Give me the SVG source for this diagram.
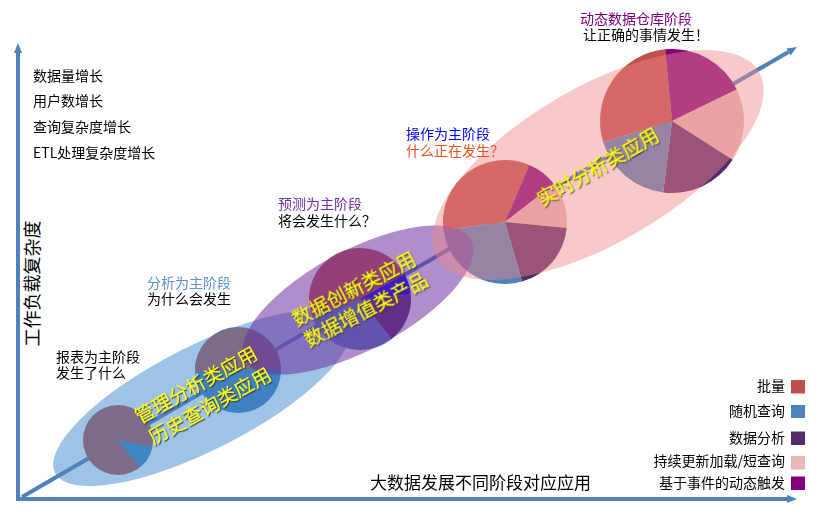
<svg xmlns="http://www.w3.org/2000/svg" width="820" height="520" viewBox="0 0 820 520">
<defs>
<style>
text{font-family:"Noto Sans CJK SC","Noto Sans",sans-serif;}
.t{font-size:14px;fill:#000;}
.s{font-family:"Liberation Sans","Noto Sans CJK SC",sans-serif;}
.axis{stroke:#4f81bd;stroke-width:4;fill:none;}
.band{font-size:19.5px;fill:#ffff00;text-anchor:middle;}
.lg{font-size:14px;fill:#000;text-anchor:end;}
.c-batch{fill:#c0504d;}
.c-rand{fill:#4f81bd;}
.c-ana{fill:#572b6c;}
.c-cont{fill:#e6b9b8;}
.c-evt{fill:#800080;}
</style>
<marker id="arr" viewBox="0 0 10 8" refX="0" refY="4" markerWidth="10" markerHeight="8" markerUnits="userSpaceOnUse" orient="auto">
<path d="M0,0 L10,4 L0,8 Z" fill="#4f81bd"/>
</marker>
<filter id="sh" x="-10%" y="-20%" width="120%" height="140%">
<feDropShadow dx="1.2" dy="1.2" stdDeviation="0.7" flood-color="#333" flood-opacity="0.85"/>
</filter>
</defs>
<rect width="820" height="520" fill="#fff"/>

<g id="axes">
<line class="axis" x1="18" y1="501" x2="18" y2="53" marker-end="url(#arr)"/>
<line class="axis" x1="16" y1="499" x2="787" y2="499" marker-end="url(#arr)"/>
</g>

<g id="band-history">
<ellipse cx="202" cy="398" rx="165" ry="52" transform="rotate(-27 202 398)" fill="#5b9bd5" fill-opacity="0.6"/>
</g>

<g id="connectors">
<line class="axis" x1="22" y1="497" x2="788.4" y2="52" marker-end="url(#arr)"/>
</g>

<g id="pie-report">
<circle cx="118" cy="440" r="35" fill="#7c6b89"/>
<path d="M118,440 L152.23,447.28 A35,35 0 0 1 140.03,467.2 Z" fill="#3f86c6"/>
</g>

<g id="pie-analysis">
<circle cx="238" cy="370" r="43" fill="#3e80c2"/>
<path d="M238,370 L195.03,371.5 A43,43 0 0 1 280.97,368.5 Z" fill="#7d6b88"/>
</g>

<g id="pie-predict">
<path class="c-batch" d="M360,299 L312.08,316.44 A51,51 0 0 1 404.6,274.27 Z"/>
<path d="M360,299 L404.6,274.27 A51,51 0 0 1 410.81,294.55 Z" fill="#0000ff"/>
<path class="c-ana" d="M360,299 L410.81,294.55 A51,51 0 0 1 391.4,339.19 Z"/>
<path class="c-rand" d="M360,299 L391.4,339.19 A51,51 0 0 1 312.08,316.44 Z"/>
</g>

<g id="pie-operate">
<path class="c-batch" d="M505,222 L443.52,229.99 A62,62 0 0 1 529.23,164.93 Z"/>
<path class="c-evt" d="M505,222 L529.23,164.93 A62,62 0 0 1 553.86,183.83 Z"/>
<path class="c-cont" d="M505,222 L553.86,183.83 A62,62 0 0 1 566.71,227.94 Z"/>
<path class="c-ana" d="M505,222 L566.71,227.94 A62,62 0 0 1 522.09,281.6 Z"/>
<path class="c-rand" d="M505,222 L522.09,281.6 A62,62 0 0 1 443.52,229.99 Z"/>
</g>

<g id="band-innovation">
<ellipse cx="358" cy="300" rx="128" ry="50" transform="rotate(-28 358 300)" fill="#7030a0" fill-opacity="0.55"/>
</g>

<g id="pie-dynamic">
<path class="c-batch" d="M672,121 L603.15,142.05 A72,72 0 0 1 665.1,49.33 Z"/>
<path class="c-evt" d="M672,121 L665.1,49.33 A72,72 0 0 1 736.71,89.44 Z"/>
<path class="c-cont" d="M672,121 L736.71,89.44 A72,72 0 0 1 732.67,159.77 Z"/>
<path class="c-ana" d="M672,121 L732.67,159.77 A72,72 0 0 1 663.23,192.46 Z"/>
<path class="c-rand" d="M672,121 L663.23,192.46 A72,72 0 0 1 603.15,142.05 Z"/>
</g>

<g id="band-realtime">
<ellipse cx="598" cy="165" rx="186" ry="78" transform="rotate(-30 598 165)" fill="#f08888" fill-opacity="0.45"/>
</g>

<g id="band-labels" filter="url(#sh)">
<g transform="translate(196,385) rotate(-29)">
<text class="band" x="0" y="7">管理分析类应用<tspan x="2" dy="25">历史查询类应用</tspan></text>
</g>
<g transform="translate(354,289) rotate(-27.5)">
<text class="band" x="0" y="7">数据创新类应用<tspan x="1" dy="23.5">数据增值类产品</tspan></text>
</g>
<g transform="translate(598,167) rotate(-29.5)">
<text class="band" x="0" y="7">实时分析类应用</text>
</g>
</g>

<g id="growth-notes">
<text class="t" x="33" y="81">数据量增长</text>
<text class="t" x="33" y="106">用户数增长</text>
<text class="t" x="33" y="132">查询复杂度增长</text>
<text class="t" x="33" y="158">ETL处理复杂度增长</text>
</g>

<g id="axis-labels">
<text transform="translate(39,283.5) rotate(-90)" font-size="18" text-anchor="middle" fill="#000">工作负载复杂度</text>
<text x="370" y="489" font-size="17" fill="#000">大数据发展不同阶段对应应用</text>
</g>

<g id="label-report">
<text class="t s" x="56" y="362">报表为主阶段</text>
<text class="t s" x="56" y="378">发生了什么</text>
</g>
<g id="label-analysis">
<text class="t s" x="147" y="288" style="fill:#5f8fcf">分析为主阶段</text>
<text class="t s" x="147" y="304">为什么会发生</text>
</g>
<g id="label-predict">
<text class="t s" x="278" y="209" style="fill:#7030a0">预测为主阶段</text>
<text class="t s" x="278" y="226">将会发生什么？</text>
</g>
<g id="label-operate">
<text class="t s" x="406" y="139" style="fill:#0000ff">操作为主阶段</text>
<text class="t s" x="406" y="156" style="fill:#e8501c">什么正在发生？</text>
</g>
<g id="label-dynamic">
<text class="t s" x="580" y="23.5" style="fill:#800080">动态数据仓库阶段</text>
<text class="t s" x="583" y="39.5">让正确的事情发生！</text>
</g>

<g id="legend">
<text class="lg" x="785" y="391">批量</text>
<rect class="c-batch" x="791" y="380" width="14" height="13.5"/>
<text class="lg" x="785" y="416">随机查询</text>
<rect class="c-rand" x="791" y="405" width="14" height="13"/>
<text class="lg" x="785" y="443">数据分析</text>
<rect class="c-ana" x="791" y="431.5" width="14" height="13.5"/>
<text class="lg" x="785" y="466">持续更新加载/短查询</text>
<rect class="c-cont" x="791" y="456" width="14" height="13.5"/>
<text class="lg" x="785" y="488">基于事件的动态触发</text>
<rect class="c-evt" x="791" y="476.5" width="14" height="13.5"/>
</g>
</svg>
